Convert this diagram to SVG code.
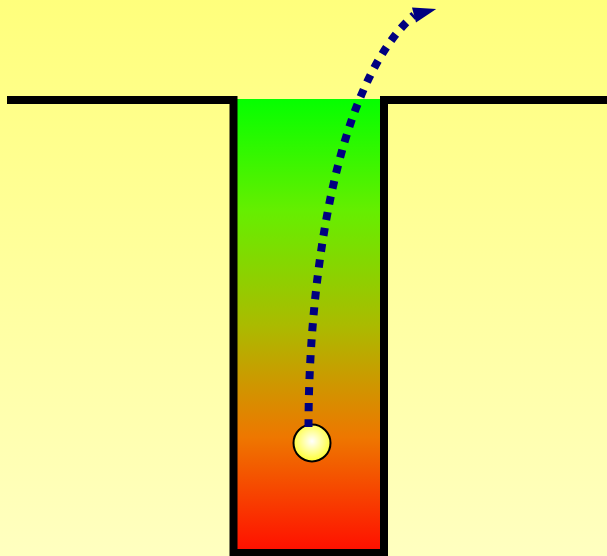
<svg xmlns="http://www.w3.org/2000/svg" width="607" height="556" viewBox="0 0 607 556">
  <defs>
    <linearGradient id="bg" x1="0" y1="0" x2="0" y2="1">
      <stop offset="0" stop-color="#ffff7c"/>
      <stop offset="1" stop-color="#ffffc0"/>
    </linearGradient>
    <linearGradient id="well" x1="0" y1="0" x2="0" y2="1">
      <stop offset="0" stop-color="#05ff00"/>
      <stop offset="0.25" stop-color="#66ee00"/>
      <stop offset="0.5" stop-color="#aabb00"/>
      <stop offset="0.75" stop-color="#ee7700"/>
      <stop offset="1" stop-color="#ff1000"/>
    </linearGradient>
    <radialGradient id="ball" cx="0.5" cy="0.45" r="0.55">
      <stop offset="0" stop-color="#ffffff"/>
      <stop offset="1" stop-color="#ffff30"/>
    </radialGradient>
    <marker id="arrow" markerUnits="userSpaceOnUse" markerWidth="30" markerHeight="20" refX="0" refY="0" viewBox="-2 -10 30 20" orient="-15">
      <path d="M0,-7.8 L23,0 L0,7.8 z" fill="#000080"/>
    </marker>
    <style>
      .wall { fill: none; stroke: #000; stroke-width: 8; stroke-linejoin: miter; }
      .path { fill: none; stroke: #000080; stroke-width: 8; stroke-dasharray: 8 8; stroke-linecap: butt; }
    </style>
  </defs>
  <rect x="0" y="0" width="607" height="556" fill="url(#bg)"/>
  <g id="well">
    <rect x="236" y="99" width="145" height="451" fill="url(#well)"/>
    <path class="wall" d="M7,100 H233.5 V553 H384 V100 H607"/>
  </g>
  <g id="particle">
    <circle cx="312" cy="443" r="18.5" fill="url(#ball)" stroke="#000" stroke-width="2"/>
  </g>
  <g id="connectors">
    <path class="path" d="M308.5,427 C308.5,300 330,90 414,15" marker-end="url(#arrow)"/>
  </g>
</svg>
